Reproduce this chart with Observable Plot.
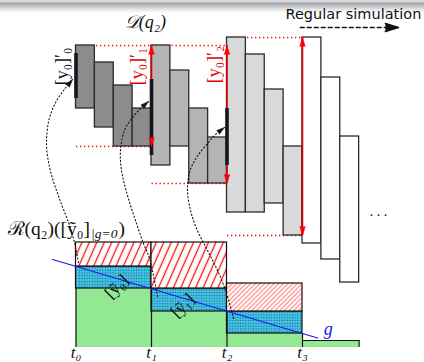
<!DOCTYPE html>
<html><head><meta charset="utf-8">
<script src="https://cdn.jsdelivr.net/npm/d3@7"></script>
<script src="https://cdn.jsdelivr.net/npm/@observablehq/plot@0.6"></script>
<style>
html,body{margin:0;padding:0;background:#fff;}
#wrap{position:relative;width:424px;height:362px;overflow:hidden;}
#hdr{position:absolute;left:0;top:0;width:424px;height:13px;background:linear-gradient(to bottom,#dcdce4 0px,#d2d2da 2px,#a0a0a4 3px,#e2e2e2 9px,#ffffff 13px);}
#chart{position:absolute;left:0;top:0;}
</style></head><body>
<div id="wrap"><div id="hdr"></div><div id="chart"></div></div>
<script>
// ---------------- data (x in integration steps, y in value units) ----------------
// D(q2): sub-step boxes of each step
const boxStep  = [0,0,0,0, 1,1,1,1, 2,2,2,2, 3,3,3];
const boxStart = [0,0.25,0.5,0.75, 1,1.25,1.5,1.75, 2,2.25,2.5,2.75, 3,3.25,3.5];
const boxHigh  = [302,285,262,239, 302,277,239,210, 310,293,258,201, 310,270,211];
const boxLow   = [239,220,201,201, 182,201,164,164, 135,135,144,112, 104,88,65];
const boxWidth = 0.25;
// initial intervals [y0]'_i
const initStep   = [0,1,2];
const initLow    = [249,192,182];
const initHigh   = [294,268,239];
const initLabels = ["[y₀]′₀","[y₀]′₁","[y₀]′₂"];
const initLabelX = [-0.18,0.815,1.834];
const initLabelY = [281,281,283];
// R(q2) enclosure
const tLabels    = ["t₀","t₁","t₂","t₃"];
const tValues    = [0,1,2,3];
const blockStart = [0,1,2,3];
const blockEnd   = [1,2,3,3.75];
const safeTop    = [59,36,14,7];
const encTop     = [81,59,36];
const hatchTop   = [105,105,64];
const encLabels  = ["[ỹ₀]","[ỹ₁]"];
const encLabelX  = [0.536,1.41];
const encLabelY  = [61,42];
// guard g
const guardX = [-0.31,3.2];
const guardY = [88,9.5];
// dotted links from R to D
const link0X = [0.033,-0.02,-0.10,-0.23,-0.34,-0.39,-0.36,-0.27,-0.165,-0.046];
const link0Y = [85,105,125,151,177,202,227,245,257,268];
const link1X = [1.08,1.026,0.974,0.894,0.788,0.682,0.603,0.589,0.642,0.748,0.854,0.96];
const link1Y = [51,72,89,104,127,152,177,197,217,230,239,246];
const link2X = [2.086,2.033,1.98,1.9,1.81,1.715,1.596,1.517,1.477,1.503,1.596,1.742,1.861,1.967];
const link2Y = [29,44,57,73,87,101,119,137,157,175,190,204,214,220];
// regular simulation arrow
const simX = [2.97,4.27];
const simY = [320,320];
// text anchors
const titleX = [0.92],  titleY = [325];
const simLabelX = [2.775], simLabelY = [333];
const dotsX = [4.006], dotsY = [136];
const gLabelX = [3.34], gLabelY = [18];
const rLabelX = [-0.907], rLabelY = [119];
const rLabelParts = ["ℛ(q₂)([ỹ₀]", "|g=0", ")"];
const tLabelY = -5;

// ---------------- derived ----------------
const envSteps = [0,1,2];
const envHigh = envSteps.map(s => d3.max(boxHigh.filter((_, i) => boxStep[i] === s)));
const envLow  = envSteps.map(s => d3.min(boxLow.filter((_, i) => boxStep[i] === s)));
const links = [];
[[link0X, link0Y], [link1X, link1Y], [link2X, link2Y]].forEach(([xs, ys], k) =>
  xs.forEach((x, j) => links.push({k, x, y: ys[j]})));
const PX = 75.5; // px per step (x scale)
const linkHeads = [[link0X, link0Y], [link1X, link1Y], [link2X, link2Y]].map(([xs, ys]) => {
  const n = xs.length;
  const dx = (xs[n-1] - xs[n-2]) * PX, dy = ys[n-1] - ys[n-2];
  return {x: xs[n-1], y: ys[n-1], a: Math.atan2(dx, dy) * 180 / Math.PI};
});
const redHeads = envSteps.flatMap(s => [{x: s+1, y: envHigh[s], a: 0}, {x: s+1, y: envLow[s], a: 180}]);
const edges = blockStart.concat([blockEnd[blockEnd.length-1]]);
const edgeTop = edges.map((e, i) => {
  const tops = [];
  [i-1, i].forEach(b => { if (b >= 0 && b < blockStart.length) tops.push(safeTop[b]); });
  return d3.max(tops);
});
const idx = n => d3.range(n);
const serif = "'Liberation Serif','DejaVu Serif',serif";
const greys = ["#8c8c8c", "#b4b4b4", "#d9d9d9", "#ffffff"];

// measure R label fragments to chain them
const ctx = document.createElement("canvas").getContext("2d");
ctx.font = "19.5px 'Liberation Serif'";
const w1 = ctx.measureText(rLabelParts[0]).width;
ctx.font = "italic 13.5px 'Liberation Serif'";
const w2 = ctx.measureText(rLabelParts[1]).width;

const marks = [];
// envelope guides
marks.push(Plot.link(envSteps, {x1: s => s, x2: s => s+1, y1: s => envHigh[s], y2: s => envHigh[s], stroke: "red", strokeWidth: 1.3, strokeDasharray: "1.3,2.7"}));
marks.push(Plot.link(envSteps, {x1: s => s, x2: s => s+1, y1: s => envLow[s], y2: s => envLow[s], stroke: "red", strokeWidth: 1.3, strokeDasharray: "1.3,2.7"}));
// D(q2) boxes
greys.forEach((g, s) => marks.push(Plot.rect(idx(boxStep.length).filter(i => boxStep[i] === s), {
  x1: i => boxStart[i], x2: i => boxStart[i] + boxWidth, y1: i => boxLow[i], y2: i => boxHigh[i],
  fill: g, stroke: "#2b2b2b", strokeWidth: 1.3
})));
// red envelope arrows
marks.push(Plot.ruleX(envSteps, {x: s => s+1, y1: s => envHigh[s], y2: s => envLow[s], stroke: "#e00000", strokeWidth: 1.6}));
// initial intervals
marks.push(Plot.ruleX(initStep, {x: s => s, y1: s => initLow[s], y2: s => initHigh[s], stroke: "#15151f", strokeWidth: 3.6}));
marks.push(Plot.vector(redHeads, {x: "x", y: "y", rotate: "a", length: 9, r: 2.7, shape: "spike", anchor: "end", fill: "red", stroke: "red", strokeWidth: 0.6}));
// R(q2) blocks
marks.push(Plot.rect(idx(4), {x1: i => blockStart[i], x2: i => blockEnd[i], y1: i => 0, y2: i => safeTop[i], fill: "#93e893"}));
marks.push(Plot.rect(idx(3), {x1: i => blockStart[i], x2: i => blockEnd[i], y1: i => safeTop[i], y2: i => encTop[i], fill: "url(#dots)", stroke: "#111", strokeWidth: 1.2}));
marks.push(Plot.rect([0,1], {x1: i => blockStart[i], x2: i => blockEnd[i], y1: i => encTop[i], y2: i => hatchTop[i], fill: "url(#hatchA)", stroke: "#111", strokeWidth: 1.2}));
marks.push(Plot.rect([2], {x1: i => blockStart[i], x2: i => blockEnd[i], y1: i => encTop[i], y2: i => hatchTop[i], fill: "url(#hatchB)", stroke: "#111", strokeWidth: 1.2}));
marks.push(Plot.link([3], {x1: i => blockStart[i], x2: i => blockEnd[i], y1: i => safeTop[i], y2: i => safeTop[i], stroke: "#111", strokeWidth: 1.2}));
marks.push(Plot.ruleX(idx(edges.length), {x: i => edges[i], y1: i => 0, y2: i => edgeTop[i], stroke: "#111", strokeWidth: 1.2}));
// guard g
marks.push(Plot.line(idx(2), {x: i => guardX[i], y: i => guardY[i], stroke: "#1a1af0", strokeWidth: 1.3}));
// dotted links
marks.push(Plot.line(links, {x: "x", y: "y", z: "k", curve: "catmull-rom", stroke: "#111", strokeWidth: 1.1, strokeDasharray: "1.2,2.4"}));
marks.push(Plot.vector(linkHeads, {x: "x", y: "y", rotate: "a", length: 8, r: 2.4, shape: "spike", anchor: "end", fill: "#111", stroke: "#111", strokeWidth: 0.5}));
// regular simulation arrow
marks.push(Plot.line(idx(2), {x: i => simX[i], y: i => simY[i], stroke: "#111", strokeWidth: 1.3, strokeDasharray: "4,3"}));
marks.push(Plot.vector([1], {x: i => simX[i], y: i => simY[i], rotate: 90, length: 13, r: 4, shape: "spike", anchor: "end", fill: "#111", stroke: "#111"}));
// texts
marks.push(Plot.text([0], {x: () => titleX[0], y: () => titleY[0], text: () => "𝒟(q₂)", fontSize: 18, fontFamily: serif, fontStyle: "italic", fill: "#111"}));
marks.push(Plot.text([0], {x: () => simLabelX[0], y: () => simLabelY[0], text: () => "Regular simulation", fontSize: 14.5, fontFamily: "'DejaVu Sans',sans-serif", textAnchor: "start", fill: "#111"}));
marks.push(Plot.text([0], {x: () => dotsX[0], y: () => dotsY[0], text: () => ". . .", fontSize: 14, fontFamily: serif, fill: "#111"}));
marks.push(Plot.text([0], {x: () => gLabelX[0], y: () => gLabelY[0], text: () => "g", fontSize: 18, fontFamily: serif, fontStyle: "italic", fill: "#1a1af0"}));
marks.push(Plot.text(tValues, {x: d => d, y: () => tLabelY, text: (d, i) => tLabels[i], fontSize: 17, fontFamily: serif, fontStyle: "italic", fill: "#111"}));
marks.push(Plot.text(initStep.filter(s => s === 0), {x: s => initLabelX[s], y: s => initLabelY[s], text: s => initLabels[s], rotate: -90, fontSize: 18, fontFamily: serif, fill: "#111"}));
marks.push(Plot.text(initStep.filter(s => s > 0), {x: s => initLabelX[s], y: s => initLabelY[s], text: s => initLabels[s], rotate: -90, fontSize: 18, fontFamily: serif, fill: "#e00000"}));
marks.push(Plot.text(idx(2), {x: i => encLabelX[i], y: i => encLabelY[i], text: i => encLabels[i], rotate: -45, fontSize: 17, fontFamily: serif, fill: "#111"}));
marks.push(Plot.text([0], {x: () => rLabelX[0], y: () => rLabelY[0], text: () => rLabelParts[0], fontSize: 19.5, fontFamily: serif, textAnchor: "start", fill: "#111"}));
marks.push(Plot.text([0], {x: () => rLabelX[0], y: () => rLabelY[0], text: () => rLabelParts[1], dx: w1 + 1, dy: 5, fontSize: 13.5, fontFamily: serif, fontStyle: "italic", textAnchor: "start", fill: "#111"}));
marks.push(Plot.text([0], {x: () => rLabelX[0], y: () => rLabelY[0], text: () => rLabelParts[2], dx: w1 + w2 + 2, fontSize: 19.5, fontFamily: serif, textAnchor: "start", fill: "#111"}));

const svg = Plot.plot({
  width: 424, height: 362,
  marginTop: 0, marginRight: 0, marginBottom: 0, marginLeft: 0,
  x: {domain: [-1, 348.5 / PX], range: [0, 424], axis: null},
  y: {domain: [0, 347], range: [347, 0], axis: null},
  style: {background: "transparent", overflow: "visible"},
  marks
});
const defs = document.createElementNS("http://www.w3.org/2000/svg", "defs");
defs.innerHTML = `
<pattern id="hatchA" patternUnits="userSpaceOnUse" width="6.8" height="10" patternTransform="rotate(24)">
  <rect width="6.8" height="10" fill="#fff"/><line x1="3.4" y1="0" x2="3.4" y2="10" stroke="#ff1010" stroke-width="1.3"/></pattern>
<pattern id="hatchB" patternUnits="userSpaceOnUse" width="3.3" height="6" patternTransform="rotate(45)">
  <rect width="3.3" height="6" fill="#fff"/><line x1="1.6" y1="0" x2="1.6" y2="6" stroke="#ff4040" stroke-width="0.8"/></pattern>
<pattern id="dots" patternUnits="userSpaceOnUse" width="2.6" height="2.8">
  <rect width="2.6" height="2.8" fill="#40c0e2"/><rect x="0.8" y="1" width="1" height="0.9" fill="#0d2a36" fill-opacity="0.75"/></pattern>`;
svg.insertBefore(defs, svg.firstChild);
document.getElementById("chart").appendChild(svg);
</script>
</body></html>
